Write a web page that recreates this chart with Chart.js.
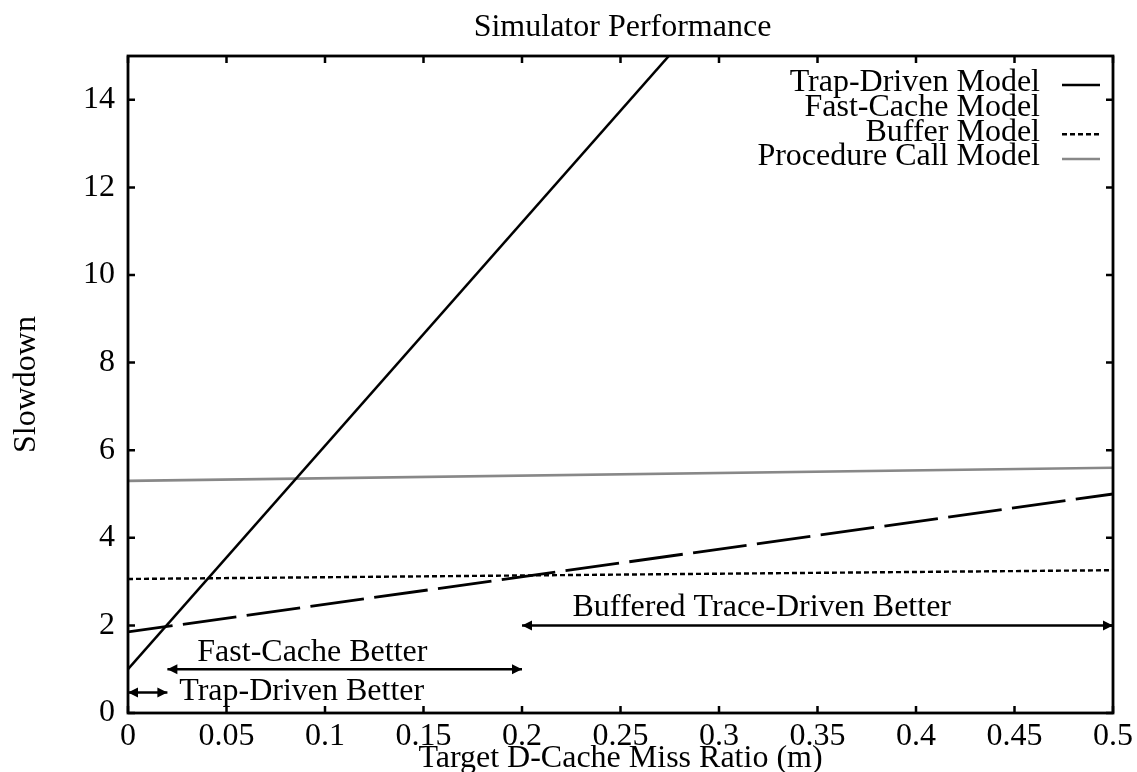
<!DOCTYPE html>
<html>
<head>
<meta charset="utf-8">
<script src="https://cdn.jsdelivr.net/npm/chart.js@4"></script>
<style>
html,body{margin:0;padding:0;background:#fff;}
canvas{display:block;}
</style>
</head>
<body>
<canvas id="c" width="1137" height="772"></canvas>
<script>
// ---- data ----
const missRatio = [0, 0.5];
const trapDriven = [1.0, 26.5];
const fastCache = [1.85, 5.0];
const bufferModel = [3.06, 3.26];
const procCall = [5.3, 5.6];

const seriesNames = ["Trap-Driven Model", "Fast-Cache Model", "Buffer Model", "Procedure Call Model"];

// range arrows: [xStart, xEnd, y]
const arrowTrap = [0, 0.02, 0.47];
const arrowFast = [0.02, 0.2, 1.0];
const arrowBuf = [0.2, 0.5, 2.0];
const regionLabels = ["Trap-Driven Better", "Fast-Cache Better", "Buffered Trace-Driven Better"];
// label anchor points [x, y]
const labelTrapPos = [0.026, 0.5];
const labelFastPos = [0.0936, 1.39];
const labelBufPos = [0.3217, 2.4];

const xTicks = [0, 0.05, 0.1, 0.15, 0.2, 0.25, 0.3, 0.35, 0.4, 0.45, 0.5];
const yTicks = [0, 2, 4, 6, 8, 10, 12, 14];

const FONT = "Liberation Serif";
const FS = 32;

function pts(xs, ys) { return xs.map((x, i) => ({x: x, y: ys[i]})); }
function arrowPts(a) { return [{x: a[0], y: a[2]}, {x: a[1], y: a[2]}]; }

const datasets = [
  {label: seriesNames[0], data: pts(missRatio, trapDriven), borderColor: "#000", borderWidth: 2.5},
  {label: seriesNames[1], data: pts(missRatio, fastCache), borderColor: "#000", borderWidth: 2.8, borderDash: [54, 10.4], borderDashOffset: 9},
  {label: seriesNames[2], data: pts(missRatio, bufferModel), borderColor: "#000", borderWidth: 2.4, borderDash: [5, 3]},
  {label: seriesNames[3], data: pts(missRatio, procCall), borderColor: "#888", borderWidth: 2.6},
  {label: "arrow1", data: arrowPts(arrowTrap), borderColor: "#000", borderWidth: 2.5, isArrow: true},
  {label: "arrow2", data: arrowPts(arrowFast), borderColor: "#000", borderWidth: 2.5, isArrow: true},
  {label: "arrow3", data: arrowPts(arrowBuf), borderColor: "#000", borderWidth: 2.5, isArrow: true}
].map(d => Object.assign({showLine: true, pointRadius: 0, fill: false, tension: 0, borderCapStyle: "butt"}, d));

const decor = {
  id: "decor",
  afterDatasetsDraw(chart) {
    const ctx = chart.ctx, a = chart.chartArea;
    const xs = chart.scales.x, ys = chart.scales.y;
    ctx.save();
    // arrowheads
    chart.data.datasets.forEach(ds => {
      if (!ds.isArrow) return;
      const yP = ys.getPixelForValue(ds.data[0].y);
      const x0 = xs.getPixelForValue(ds.data[0].x);
      const x1 = xs.getPixelForValue(ds.data[1].x);
      ctx.fillStyle = "#000";
      [[x0, 1], [x1, -1]].forEach(([px, dir]) => {
        ctx.beginPath();
        ctx.moveTo(px, yP);
        ctx.lineTo(px + dir * 10, yP - 5);
        ctx.lineTo(px + dir * 10, yP + 5);
        ctx.closePath();
        ctx.fill();
      });
    });
    // region labels
    ctx.fillStyle = "#000";
    ctx.font = FS + "px '" + FONT + "'";
    ctx.textBaseline = "middle";
    ctx.textAlign = "left";
    ctx.fillText(regionLabels[0], xs.getPixelForValue(labelTrapPos[0]), ys.getPixelForValue(labelTrapPos[1]));
    ctx.textAlign = "center";
    ctx.fillText(regionLabels[1], xs.getPixelForValue(labelFastPos[0]), ys.getPixelForValue(labelFastPos[1]));
    ctx.fillText(regionLabels[2], xs.getPixelForValue(labelBufPos[0]), ys.getPixelForValue(labelBufPos[1]));

    // frame
    ctx.strokeStyle = "#000";
    ctx.lineWidth = 2.8;
    ctx.strokeRect(a.left, a.top, a.right - a.left, a.bottom - a.top);
    // inward ticks
    ctx.lineWidth = 2.5;
    const tl = 7;
    xTicks.forEach(v => {
      const px = xs.getPixelForValue(v);
      ctx.beginPath();
      ctx.moveTo(px, a.bottom); ctx.lineTo(px, a.bottom - tl);
      ctx.moveTo(px, a.top); ctx.lineTo(px, a.top + tl);
      ctx.stroke();
    });
    yTicks.forEach(v => {
      const py = ys.getPixelForValue(v);
      ctx.beginPath();
      ctx.moveTo(a.left, py); ctx.lineTo(a.left + tl, py);
      ctx.moveTo(a.right, py); ctx.lineTo(a.right - tl, py);
      ctx.stroke();
    });

    // legend
    const rowY = [83, 107.7, 132.3, 157];
    ctx.textAlign = "right";
    ctx.textBaseline = "middle";
    chart.data.datasets.slice(0, 4).forEach((ds, i) => {
      ctx.fillStyle = "#000";
      ctx.fillText(ds.label, 1040, rowY[i]);
      if (i === 1) return;
      ctx.strokeStyle = ds.borderColor;
      ctx.lineWidth = ds.borderWidth;
      ctx.setLineDash(ds.borderDash && i === 2 ? ds.borderDash : []);
      ctx.beginPath();
      ctx.moveTo(1062, rowY[i] + 2); ctx.lineTo(1100, rowY[i] + 2);
      ctx.stroke();
      ctx.setLineDash([]);
    });

    // titles
    ctx.fillStyle = "#000";
    ctx.textAlign = "center";
    ctx.textBaseline = "middle";
    ctx.fillText("Simulator Performance", (a.left + a.right) / 2 + 2, 28);
    ctx.fillText("Target D-Cache Miss Ratio (m)", (a.left + a.right) / 2, 759);
    ctx.translate(27, (a.top + a.bottom) / 2);
    ctx.rotate(-Math.PI / 2);
    ctx.fillText("Slowdown", 0, 0);
    ctx.restore();
  }
};

new Chart(document.getElementById("c"), {
  type: "scatter",
  data: {datasets: datasets},
  options: {
    responsive: false,
    animation: false,
    layout: {padding: {top: 56, right: 23, left: 0, bottom: 0}},
    plugins: {legend: {display: false}, tooltip: {enabled: false}, title: {display: false}},
    scales: {
      x: {
        type: "linear", min: 0, max: 0.5,
        afterFit(s) { s.height = 59; },
        afterBuildTicks(s) { s.ticks = xTicks.map(v => ({value: v})); },
        grid: {display: false, drawTicks: false},
        border: {display: false},
        ticks: {
          autoSkip: false, maxRotation: 0, padding: 4, color: "#000",
          font: {family: FONT, size: FS},
          callback: v => String(Math.round(v * 100) / 100)
        }
      },
      y: {
        type: "linear", min: 0, max: 15,
        afterFit(s) { s.width = 128; },
        afterBuildTicks(s) { s.ticks = yTicks.map(v => ({value: v})); },
        grid: {display: false, drawTicks: false},
        border: {display: false},
        ticks: {
          autoSkip: false, padding: 13, color: "#000",
          font: {family: FONT, size: FS},
          callback: v => String(v)
        }
      }
    }
  },
  plugins: [decor]
});
</script>
</body>
</html>
